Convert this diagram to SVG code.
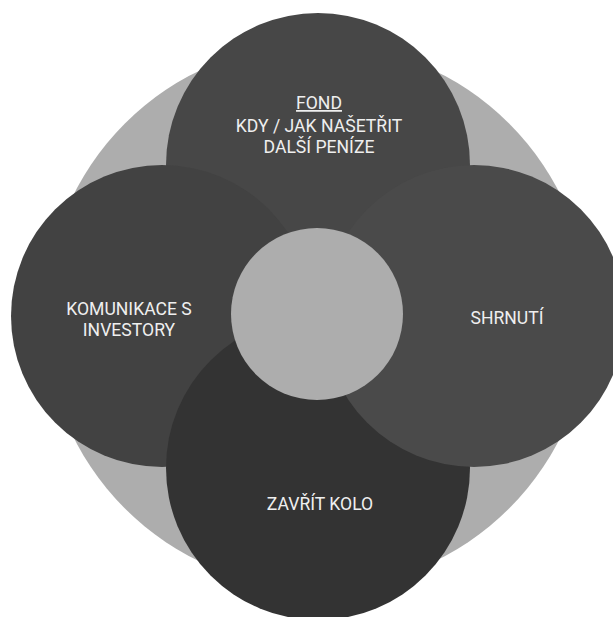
<svg xmlns="http://www.w3.org/2000/svg" width="613" height="617" viewBox="0 0 613 617">
<style>
.lbl{font-family:Roboto,"Liberation Sans",sans-serif;font-size:17.6px;fill:#efefef;text-anchor:middle}
</style>
<rect width="613" height="617" fill="#ffffff"/>
<g id="background"><circle cx="317" cy="316" r="272" fill="#adadad"/></g>
<g id="node-fond">
<circle cx="318" cy="165" r="152" fill="#474747"/>
</g>
<g id="node-komunikace">
<circle cx="162" cy="316" r="151" fill="#424242"/>
</g>
<g id="node-zavrit">
<circle cx="318" cy="468" r="152" fill="#333333"/>
</g>
<g id="node-shrnuti">
<circle cx="474" cy="316" r="151" fill="#4a4a4a"/>
</g>
<g id="node-center">
<circle cx="317" cy="314" r="86" fill="#adadad"/>
</g>
<g id="connectors"></g>
<g id="labels">
<text class="lbl" x="319" y="109" text-decoration="underline">FOND</text>
<text class="lbl" x="319" y="131.5">KDY / JAK NAŠETŘIT</text>
<text class="lbl" x="319" y="152.5">DALŠÍ PENÍZE</text>
<text class="lbl" x="129" y="315">KOMUNIKACE S</text>
<text class="lbl" x="129" y="336">INVESTORY</text>
<text class="lbl" x="507" y="324">SHRNUTÍ</text>
<text class="lbl" x="320" y="510">ZAVŘÍT KOLO</text>
</g>
</svg>
